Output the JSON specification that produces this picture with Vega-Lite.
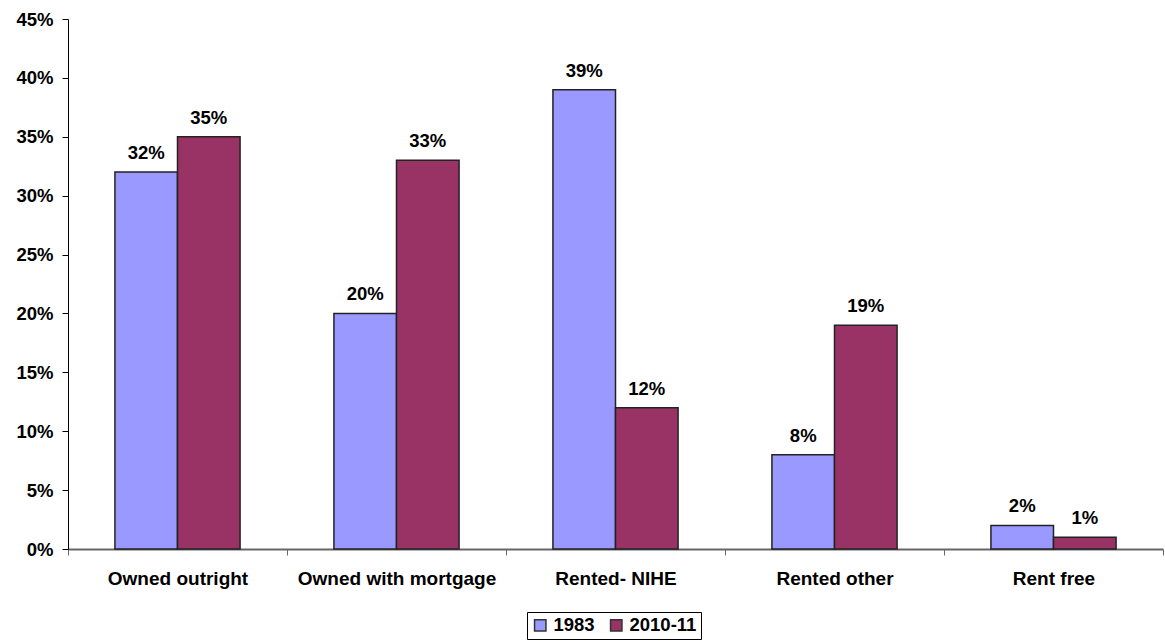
{
  "$schema": "https://vega.github.io/schema/vega-lite/v6.json",
  "autosize": "none",
  "width": 1095,
  "height": 530,
  "padding": {"left": 68, "top": 19, "right": 2, "bottom": 93},
  "background": "white",
  "config": {
    "view": {"stroke": null},
    "font": "Liberation Sans",
    "axis": {"grid": false, "labelFont": "Liberation Sans", "labelFontWeight": "bold", "labelFontSize": 18.5, "labelColor": "#000", "labelLimit": 400}
  },
  "data": {
    "values": [
      {"type": "Owned outright", "year": "1983", "value": 0.32},
      {"type": "Owned outright", "year": "2010-11", "value": 0.35},
      {"type": "Owned with mortgage", "year": "1983", "value": 0.20},
      {"type": "Owned with mortgage", "year": "2010-11", "value": 0.33},
      {"type": "Rented- NIHE", "year": "1983", "value": 0.39},
      {"type": "Rented- NIHE", "year": "2010-11", "value": 0.12},
      {"type": "Rented other", "year": "1983", "value": 0.08},
      {"type": "Rented other", "year": "2010-11", "value": 0.19},
      {"type": "Rent free", "year": "1983", "value": 0.02},
      {"type": "Rent free", "year": "2010-11", "value": 0.01}
    ]
  },
  "encoding": {
    "x": {
      "field": "type", "type": "nominal", "sort": null, "title": null,
      "scale": {"paddingInner": 0, "paddingOuter": 0},
      "axis": {"labelAngle": 0, "tickBand": "extent", "domainColor": "#666", "tickColor": "#666", "tickSize": 6, "labelPadding": 14, "domainWidth": 2, "labelFontSize": 19, "labelLimit": 400}
    },
    "xOffset": {"field": "year", "type": "nominal", "scale": {"paddingInner": 0, "paddingOuter": 0.75}},
    "y": {
      "field": "value", "type": "quantitative", "title": null,
      "scale": {"domain": [0, 0.45], "nice": false},
      "axis": {"format": ".0%", "values": [0, 0.05, 0.1, 0.15, 0.2, 0.25, 0.3, 0.35, 0.4, 0.45], "domainColor": "#000", "tickColor": "#000", "tickSize": 6, "labelPadding": 9, "labelFontSize": 18.5}
    }
  },
  "layer": [
    {
      "mark": {"type": "bar", "stroke": "#222", "strokeWidth": 1.5},
      "encoding": {
        "color": {
          "field": "year", "type": "nominal", "title": null,
          "scale": {"domain": ["1983", "2010-11"], "range": ["#9999FF", "#993366"]},
          "legend": {
            "orient": "none", "legendX": 459, "legendY": 593, "direction": "horizontal", "symbolType": "square", "symbolSize": 130,
            "symbolStrokeColor": "#333", "symbolStrokeWidth": 1.5,
            "labelFontSize": 18.5, "labelFontWeight": "bold", "labelFont": "Liberation Sans", "labelColor": "#000",
            "strokeColor": "#000", "padding": 4, "columnPadding": 12
          }
        }
      }
    },
    {
      "mark": {"type": "text", "dy": -19, "fontSize": 18.5, "fontWeight": "bold", "font": "Liberation Sans", "color": "#000"},
      "encoding": {"text": {"field": "value", "type": "quantitative", "format": ".0%"}}
    }
  ]
}
